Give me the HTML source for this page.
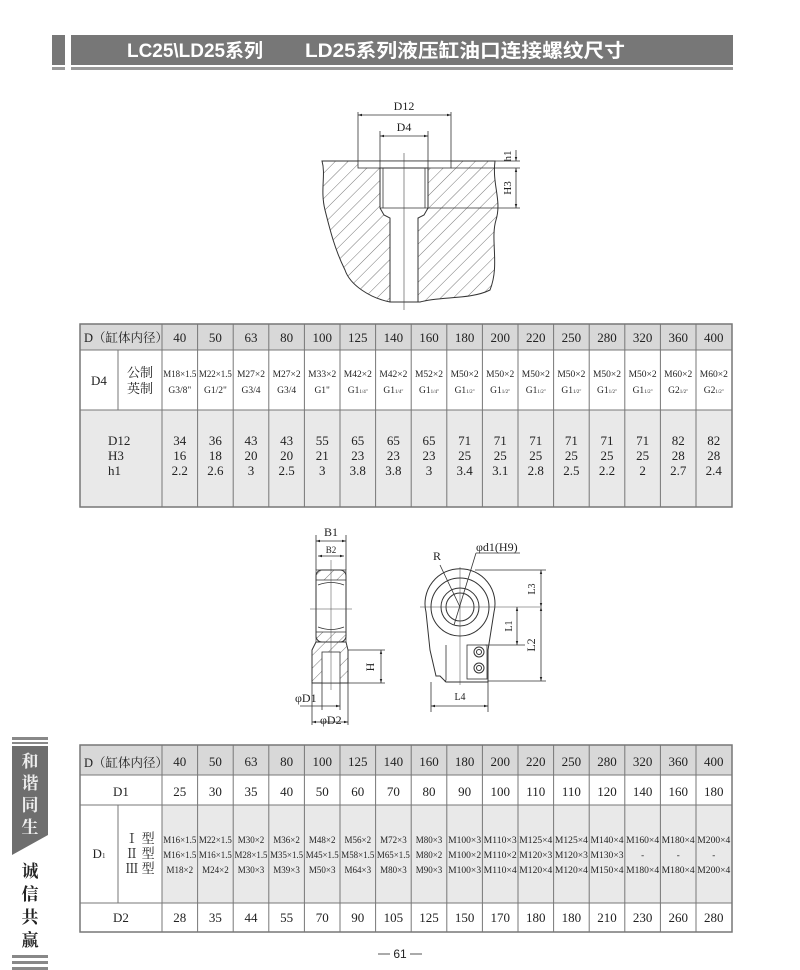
<!DOCTYPE html>
<html><head><meta charset="utf-8"><style>
html,body{margin:0;padding:0;background:#fff;}
svg{display:block;}
text{font-family:"Liberation Serif","Noto Serif CJK SC",serif;fill:#222;}
.n{font-size:13px;text-anchor:middle;}
.s{font-size:9.5px;text-anchor:middle;}
.dl{stroke:#333;stroke-width:0.8;fill:none;}
.ol{stroke:#333;stroke-width:1;fill:none;}
</style></head><body>
<svg width="800" height="970" viewBox="0 0 800 970" xmlns="http://www.w3.org/2000/svg">
<defs>
<pattern id="h" patternUnits="userSpaceOnUse" width="9" height="9" patternTransform="rotate(45)">
<line x1="0" y1="0" x2="0" y2="9" stroke="#555" stroke-width="0.8"/></pattern>
<marker id="a" viewBox="0 0 10 10" refX="10" refY="5" markerWidth="7" markerHeight="5" orient="auto-start-reverse"><path d="M0,2 L10,5 L0,8z" fill="#222"/></marker>
</defs>
<!-- header -->
<rect x="52" y="35" width="13" height="30" fill="#777"/>
<rect x="71" y="35" width="662" height="30" fill="#777"/>
<rect x="52" y="67" width="13" height="3" fill="#999"/>
<rect x="71" y="67" width="662" height="3" fill="#999"/>
<text x="127" y="57" textLength="136" lengthAdjust="spacingAndGlyphs" style="font-family:'Liberation Sans','Noto Sans CJK SC',sans-serif;font-size:19px;font-weight:bold;fill:#fff">LC25\LD25系列</text>
<text x="305" y="57" textLength="320" lengthAdjust="spacingAndGlyphs" style="font-family:'Liberation Sans','Noto Sans CJK SC',sans-serif;font-size:19px;font-weight:bold;fill:#fff">LD25系列液压缸油口连接螺纹尺寸</text>

<!-- top drawing -->
<path d="M322,161 L495,161 C492,185 502,200 496,220 C490,240 500,265 490,290 C470,300 440,296 420,302 L390,302 C370,298 350,285 345,270 C335,250 330,230 325,210 C320,190 326,175 322,161Z" fill="url(#h)" stroke="#333"/>
<rect x="358" y="161" width="93" height="7" fill="#fff" stroke="#333" stroke-width="0.8"/>
<path d="M380,168 L428,168 L428,208 L424,215 L418,218 L418,302 L390,302 L390,218 L384,215 L380,208Z" fill="#fff" stroke="#333"/>
<line x1="383" y1="168" x2="383" y2="208" class="dl"/><line x1="425" y1="168" x2="425" y2="208" class="dl"/>
<line x1="380" y1="208" x2="428" y2="208" class="dl"/>
<line x1="404" y1="153" x2="404" y2="310" stroke="#444" stroke-width="0.6"/>
<line x1="358" y1="112" x2="358" y2="161" class="dl"/><line x1="451" y1="112" x2="451" y2="161" class="dl"/>
<line x1="358" y1="115" x2="451" y2="115" class="dl" marker-start="url(#a)" marker-end="url(#a)"/>
<text x="404" y="110" style="font-size:12px" text-anchor="middle">D12</text>
<line x1="380" y1="131" x2="380" y2="168" class="dl"/><line x1="428" y1="131" x2="428" y2="168" class="dl"/>
<line x1="380" y1="136" x2="428" y2="136" class="dl" marker-start="url(#a)" marker-end="url(#a)"/>
<text x="404" y="131" style="font-size:12px" text-anchor="middle">D4</text>
<line x1="495" y1="161" x2="520" y2="161" class="dl"/><line x1="451" y1="168" x2="520" y2="168" class="dl"/><line x1="428" y1="208" x2="520" y2="208" class="dl"/>
<line x1="516" y1="150" x2="516" y2="161" class="dl" marker-end="url(#a)"/>
<line x1="516" y1="168" x2="516" y2="208" class="dl" marker-start="url(#a)" marker-end="url(#a)"/>
<text transform="translate(511,156) rotate(-90)" style="font-size:11px" text-anchor="middle">h1</text>
<text transform="translate(511,188) rotate(-90)" style="font-size:11px" text-anchor="middle">H3</text>

<!-- table 1 -->
<rect x="80" y="324" width="652" height="26" fill="#d8d8d8"/>
<rect x="80" y="350" width="652" height="60" fill="#fff"/>
<rect x="80" y="410" width="652" height="97" fill="#e9e9e9"/>
<g stroke="#777" stroke-width="1" fill="none">
<rect x="80" y="324" width="652" height="183" stroke-width="1.5"/>
<line x1="80" y1="350" x2="732" y2="350"/><line x1="80" y1="410" x2="732" y2="410"/>
<line x1="118" y1="350" x2="118" y2="410"/>
<path d="M162,324V507M197.6,324V507M233.2,324V507M268.8,324V507M304.4,324V507M340,324V507M375.6,324V507M411.2,324V507M446.8,324V507M482.4,324V507M518,324V507M553.6,324V507M589.2,324V507M624.8,324V507M660.4,324V507M696,324V507"/>
</g>
<text x="84" y="342" style="font-size:12.5px">D（缸体内径）</text>
<text x="99" y="385" class="n">D4</text>
<text x="140" y="377" class="n">公制</text><text x="140" y="393" class="n">英制</text>
<text x="108" y="445" class="n" style="text-anchor:start">D12</text>
<text x="108" y="460" class="n" style="text-anchor:start">H3</text>
<text x="108" y="475" class="n" style="text-anchor:start">h1</text>
<g class="n">
<text x="179.8" y="342">40</text><text x="215.4" y="342">50</text><text x="251" y="342">63</text><text x="286.6" y="342">80</text><text x="322.2" y="342">100</text><text x="357.8" y="342">125</text><text x="393.4" y="342">140</text><text x="429" y="342">160</text><text x="464.6" y="342">180</text><text x="500.2" y="342">200</text><text x="535.8" y="342">220</text><text x="571.4" y="342">250</text><text x="607" y="342">280</text><text x="642.6" y="342">320</text><text x="678.2" y="342">360</text><text x="713.8" y="342">400</text>
</g>
<g class="s">
<text x="179.8" y="377" textLength="33" lengthAdjust="spacingAndGlyphs">M18×1.5</text><text x="215.4" y="377" textLength="33" lengthAdjust="spacingAndGlyphs">M22×1.5</text><text x="251" y="377">M27×2</text><text x="286.6" y="377">M27×2</text><text x="322.2" y="377">M33×2</text><text x="357.8" y="377">M42×2</text><text x="393.4" y="377">M42×2</text><text x="429" y="377">M52×2</text><text x="464.6" y="377">M50×2</text><text x="500.2" y="377">M50×2</text><text x="535.8" y="377">M50×2</text><text x="571.4" y="377">M50×2</text><text x="607" y="377">M50×2</text><text x="642.6" y="377">M50×2</text><text x="678.2" y="377">M60×2</text><text x="713.8" y="377">M60×2</text>
<text x="179.8" y="393">G3/8"</text><text x="215.4" y="393">G1/2"</text><text x="251" y="393">G3/4</text><text x="286.6" y="393">G3/4</text><text x="322.2" y="393">G1"</text>
<text x="357.8" y="393">G1<tspan style="font-size:5px">1/4"</tspan></text><text x="393.4" y="393">G1<tspan style="font-size:5px">1/4"</tspan></text><text x="429" y="393">G1<tspan style="font-size:5px">1/4"</tspan></text>
<text x="464.6" y="393">G1<tspan style="font-size:5px">1/2"</tspan></text><text x="500.2" y="393">G1<tspan style="font-size:5px">1/2"</tspan></text><text x="535.8" y="393">G1<tspan style="font-size:5px">1/2"</tspan></text><text x="571.4" y="393">G1<tspan style="font-size:5px">1/2"</tspan></text><text x="607" y="393">G1<tspan style="font-size:5px">1/2"</tspan></text><text x="642.6" y="393">G1<tspan style="font-size:5px">1/2"</tspan></text><text x="678.2" y="393">G2<tspan style="font-size:5px">1/2"</tspan></text><text x="713.8" y="393">G2<tspan style="font-size:5px">1/2"</tspan></text>
</g>
<g class="n">
<text x="179.8" y="445">34</text><text x="215.4" y="445">36</text><text x="251" y="445">43</text><text x="286.6" y="445">43</text><text x="322.2" y="445">55</text><text x="357.8" y="445">65</text><text x="393.4" y="445">65</text><text x="429" y="445">65</text><text x="464.6" y="445">71</text><text x="500.2" y="445">71</text><text x="535.8" y="445">71</text><text x="571.4" y="445">71</text><text x="607" y="445">71</text><text x="642.6" y="445">71</text><text x="678.2" y="445">82</text><text x="713.8" y="445">82</text>
<text x="179.8" y="460">16</text><text x="215.4" y="460">18</text><text x="251" y="460">20</text><text x="286.6" y="460">20</text><text x="322.2" y="460">21</text><text x="357.8" y="460">23</text><text x="393.4" y="460">23</text><text x="429" y="460">23</text><text x="464.6" y="460">25</text><text x="500.2" y="460">25</text><text x="535.8" y="460">25</text><text x="571.4" y="460">25</text><text x="607" y="460">25</text><text x="642.6" y="460">25</text><text x="678.2" y="460">28</text><text x="713.8" y="460">28</text>
<text x="179.8" y="475">2.2</text><text x="215.4" y="475">2.6</text><text x="251" y="475">3</text><text x="286.6" y="475">2.5</text><text x="322.2" y="475">3</text><text x="357.8" y="475">3.8</text><text x="393.4" y="475">3.8</text><text x="429" y="475">3</text><text x="464.6" y="475">3.4</text><text x="500.2" y="475">3.1</text><text x="535.8" y="475">2.8</text><text x="571.4" y="475">2.5</text><text x="607" y="475">2.2</text><text x="642.6" y="475">2</text><text x="678.2" y="475">2.7</text><text x="713.8" y="475">2.4</text>
</g>

<!-- side view -->
<rect x="316" y="570" width="30" height="72" rx="6" fill="#fff" stroke="#333"/>
<path d="M316,570 h30 v10 h-30z M316,632 h30 v10 h-30z" fill="url(#h)" stroke="#333" stroke-width="0.7"/>
<path d="M318,585 q13,-5 26,0 M318,627 q13,5 26,0" class="dl"/>
<path d="M316,642 L312,650 L312,683 L348,683 L348,650 L346,642Z" fill="url(#h)" stroke="#333"/>
<rect x="322" y="652" width="18" height="31" fill="#fff" stroke="#333" stroke-width="0.8"/>
<line x1="331" y1="560" x2="331" y2="690" stroke="#444" stroke-width="0.5"/>
<line x1="310" y1="609" x2="352" y2="609" stroke="#444" stroke-width="0.5"/>
<line x1="316" y1="535" x2="316" y2="570" class="dl"/><line x1="346" y1="535" x2="346" y2="570" class="dl"/>
<line x1="316" y1="541" x2="346" y2="541" class="dl" marker-start="url(#a)" marker-end="url(#a)"/>
<text x="331" y="536" style="font-size:12px" text-anchor="middle">B1</text>
<line x1="318" y1="556" x2="344" y2="556" class="dl" marker-start="url(#a)" marker-end="url(#a)"/>
<text x="331" y="553" style="font-size:9px" text-anchor="middle">B2</text>
<line x1="348" y1="650" x2="385" y2="650" class="dl"/><line x1="348" y1="683" x2="385" y2="683" class="dl"/>
<line x1="381" y1="650" x2="381" y2="683" class="dl" marker-start="url(#a)" marker-end="url(#a)"/>
<text transform="translate(374,667) rotate(-90)" style="font-size:12px" text-anchor="middle">H</text>
<line x1="322" y1="683" x2="322" y2="710" class="dl"/><line x1="340" y1="683" x2="340" y2="710" class="dl"/>
<line x1="300" y1="706" x2="340" y2="706" class="dl" marker-end="url(#a)"/>
<text x="295" y="702" style="font-size:12px">φD1</text>
<line x1="312" y1="683" x2="312" y2="725" class="dl"/><line x1="348" y1="683" x2="348" y2="725" class="dl"/>
<line x1="312" y1="722" x2="348" y2="722" class="dl" marker-start="url(#a)" marker-end="url(#a)"/>
<text x="320" y="724" style="font-size:12px">φD2</text>

<!-- front view -->
<path d="M430,650 L426,612 A35,35 0 1 1 494,612 L488,650 L488,682 L446,682 L440,676 L436,676 Z" fill="#fff" stroke="#333"/>
<path d="M446,645 L446,680 L445,682" class="dl"/>
<circle cx="460" cy="607" r="29" class="ol"/>
<circle cx="460" cy="607" r="19" class="ol"/>
<circle cx="460" cy="607" r="14" class="ol"/>
<line x1="420" y1="607" x2="540" y2="607" stroke="#444" stroke-width="0.5"/>
<line x1="460" y1="567" x2="460" y2="685" stroke="#444" stroke-width="0.5"/>
<rect x="467" y="645" width="20" height="34" fill="#fff" stroke="#333" stroke-width="0.8"/>
<circle cx="479" cy="652" r="5" class="ol"/><circle cx="479" cy="652" r="2.5" class="ol"/>
<circle cx="479" cy="668" r="5" class="ol"/><circle cx="479" cy="668" r="2.5" class="ol"/>
<line x1="440" y1="565" x2="460" y2="607" class="dl"/>
<line x1="476" y1="553" x2="454" y2="625" class="dl"/>
<line x1="476" y1="553" x2="520" y2="553" class="dl"/>
<text x="433" y="560" style="font-size:12px">R</text>
<text x="476" y="551" style="font-size:12px">φd1(H9)</text>
<line x1="475" y1="570" x2="546" y2="570" class="dl"/>
<line x1="488" y1="681" x2="546" y2="681" class="dl"/>
<line x1="485" y1="645" x2="525" y2="645" class="dl"/>
<line x1="541" y1="570" x2="541" y2="607" class="dl" marker-start="url(#a)" marker-end="url(#a)"/>
<line x1="541" y1="607" x2="541" y2="681" class="dl" marker-start="url(#a)" marker-end="url(#a)"/>
<line x1="517" y1="607" x2="517" y2="645" class="dl" marker-start="url(#a)" marker-end="url(#a)"/>
<text transform="translate(535,589) rotate(-90)" style="font-size:10px" text-anchor="middle">L3</text>
<text transform="translate(535,645) rotate(-90)" style="font-size:12px" text-anchor="middle">L2</text>
<text transform="translate(512,626) rotate(-90)" style="font-size:10px" text-anchor="middle">L1</text>
<line x1="431" y1="682" x2="431" y2="712" class="dl"/><line x1="488" y1="682" x2="488" y2="712" class="dl"/>
<line x1="431" y1="706" x2="488" y2="706" class="dl" marker-start="url(#a)" marker-end="url(#a)"/>
<text x="460" y="700" style="font-size:10px" text-anchor="middle">L4</text>

<!-- table 2 -->
<rect x="80" y="745" width="652" height="30" fill="#d8d8d8"/>
<rect x="162" y="805" width="570" height="98" fill="#e9e9e9"/>
<g stroke="#777" stroke-width="1" fill="none">
<rect x="80" y="745" width="652" height="187" stroke-width="1.5"/>
<line x1="80" y1="775" x2="732" y2="775"/><line x1="80" y1="805" x2="732" y2="805"/><line x1="80" y1="903" x2="732" y2="903"/>
<line x1="118" y1="805" x2="118" y2="903"/>
<path d="M162,745V932M197.6,745V932M233.2,745V932M268.8,745V932M304.4,745V932M340,745V932M375.6,745V932M411.2,745V932M446.8,745V932M482.4,745V932M518,745V932M553.6,745V932M589.2,745V932M624.8,745V932M660.4,745V932M696,745V932"/>
</g>
<text x="84" y="767" style="font-size:12.5px">D（缸体内径）</text>
<text x="121" y="796" class="n">D1</text>
<text x="99" y="858" class="n">D<tspan style="font-size:7px">1</tspan></text>
<text x="140" y="843" class="n">Ⅰ 型</text><text x="140" y="858" class="n">Ⅱ 型</text><text x="140" y="873" class="n">Ⅲ 型</text>
<text x="121" y="922" class="n">D2</text>
<g class="n">
<text x="179.8" y="766">40</text><text x="215.4" y="766">50</text><text x="251" y="766">63</text><text x="286.6" y="766">80</text><text x="322.2" y="766">100</text><text x="357.8" y="766">125</text><text x="393.4" y="766">140</text><text x="429" y="766">160</text><text x="464.6" y="766">180</text><text x="500.2" y="766">200</text><text x="535.8" y="766">220</text><text x="571.4" y="766">250</text><text x="607" y="766">280</text><text x="642.6" y="766">320</text><text x="678.2" y="766">360</text><text x="713.8" y="766">400</text>
<text x="179.8" y="796">25</text><text x="215.4" y="796">30</text><text x="251" y="796">35</text><text x="286.6" y="796">40</text><text x="322.2" y="796">50</text><text x="357.8" y="796">60</text><text x="393.4" y="796">70</text><text x="429" y="796">80</text><text x="464.6" y="796">90</text><text x="500.2" y="796">100</text><text x="535.8" y="796">110</text><text x="571.4" y="796">110</text><text x="607" y="796">120</text><text x="642.6" y="796">140</text><text x="678.2" y="796">160</text><text x="713.8" y="796">180</text>
<text x="179.8" y="922">28</text><text x="215.4" y="922">35</text><text x="251" y="922">44</text><text x="286.6" y="922">55</text><text x="322.2" y="922">70</text><text x="357.8" y="922">90</text><text x="393.4" y="922">105</text><text x="429" y="922">125</text><text x="464.6" y="922">150</text><text x="500.2" y="922">170</text><text x="535.8" y="922">180</text><text x="571.4" y="922">180</text><text x="607" y="922">210</text><text x="642.6" y="922">230</text><text x="678.2" y="922">260</text><text x="713.8" y="922">280</text>
</g>
<g class="s" style="font-size:9px">
<text x="179.8" y="843" textLength="33" lengthAdjust="spacingAndGlyphs">M16×1.5</text><text x="215.4" y="843" textLength="33" lengthAdjust="spacingAndGlyphs">M22×1.5</text><text x="251" y="843">M30×2</text><text x="286.6" y="843">M36×2</text><text x="322.2" y="843">M48×2</text><text x="357.8" y="843">M56×2</text><text x="393.4" y="843">M72×3</text><text x="429" y="843">M80×3</text><text x="464.6" y="843" textLength="33" lengthAdjust="spacingAndGlyphs">M100×3</text><text x="500.2" y="843" textLength="33" lengthAdjust="spacingAndGlyphs">M110×3</text><text x="535.8" y="843" textLength="33" lengthAdjust="spacingAndGlyphs">M125×4</text><text x="571.4" y="843" textLength="33" lengthAdjust="spacingAndGlyphs">M125×4</text><text x="607" y="843" textLength="33" lengthAdjust="spacingAndGlyphs">M140×4</text><text x="642.6" y="843" textLength="33" lengthAdjust="spacingAndGlyphs">M160×4</text><text x="678.2" y="843" textLength="33" lengthAdjust="spacingAndGlyphs">M180×4</text><text x="713.8" y="843" textLength="33" lengthAdjust="spacingAndGlyphs">M200×4</text>
<text x="179.8" y="858" textLength="33" lengthAdjust="spacingAndGlyphs">M16×1.5</text><text x="215.4" y="858" textLength="33" lengthAdjust="spacingAndGlyphs">M16×1.5</text><text x="251" y="858" textLength="33" lengthAdjust="spacingAndGlyphs">M28×1.5</text><text x="286.6" y="858" textLength="33" lengthAdjust="spacingAndGlyphs">M35×1.5</text><text x="322.2" y="858" textLength="33" lengthAdjust="spacingAndGlyphs">M45×1.5</text><text x="357.8" y="858" textLength="33" lengthAdjust="spacingAndGlyphs">M58×1.5</text><text x="393.4" y="858" textLength="33" lengthAdjust="spacingAndGlyphs">M65×1.5</text><text x="429" y="858">M80×2</text><text x="464.6" y="858" textLength="33" lengthAdjust="spacingAndGlyphs">M100×2</text><text x="500.2" y="858" textLength="33" lengthAdjust="spacingAndGlyphs">M110×2</text><text x="535.8" y="858" textLength="33" lengthAdjust="spacingAndGlyphs">M120×3</text><text x="571.4" y="858" textLength="33" lengthAdjust="spacingAndGlyphs">M120×3</text><text x="607" y="858" textLength="33" lengthAdjust="spacingAndGlyphs">M130×3</text><text x="642.6" y="858">-</text><text x="678.2" y="858">-</text><text x="713.8" y="858">-</text>
<text x="179.8" y="873">M18×2</text><text x="215.4" y="873">M24×2</text><text x="251" y="873">M30×3</text><text x="286.6" y="873">M39×3</text><text x="322.2" y="873">M50×3</text><text x="357.8" y="873">M64×3</text><text x="393.4" y="873">M80×3</text><text x="429" y="873">M90×3</text><text x="464.6" y="873" textLength="33" lengthAdjust="spacingAndGlyphs">M100×3</text><text x="500.2" y="873" textLength="33" lengthAdjust="spacingAndGlyphs">M110×4</text><text x="535.8" y="873" textLength="33" lengthAdjust="spacingAndGlyphs">M120×4</text><text x="571.4" y="873" textLength="33" lengthAdjust="spacingAndGlyphs">M120×4</text><text x="607" y="873" textLength="33" lengthAdjust="spacingAndGlyphs">M150×4</text><text x="642.6" y="873" textLength="33" lengthAdjust="spacingAndGlyphs">M180×4</text><text x="678.2" y="873" textLength="33" lengthAdjust="spacingAndGlyphs">M180×4</text><text x="713.8" y="873" textLength="33" lengthAdjust="spacingAndGlyphs">M200×4</text>
</g>

<!-- sidebar -->
<rect x="12" y="737" width="36" height="3" fill="#888"/>
<rect x="12" y="742" width="36" height="2" fill="#888"/>
<path d="M12,746 H48 V835 L12,855 Z" fill="#6e6e6e"/>
<g style="font-family:'Noto Serif CJK SC',serif;font-size:17px;font-weight:bold" text-anchor="middle">
<text x="30" y="767" style="fill:#eee">和</text><text x="30" y="789" style="fill:#eee">谐</text><text x="30" y="811" style="fill:#eee">同</text><text x="30" y="833" style="fill:#eee">生</text>
</g>
<g style="font-family:'Noto Serif CJK SC',serif;font-size:17px;font-weight:bold" text-anchor="middle">
<text x="30" y="877">诚</text><text x="30" y="900">信</text><text x="30" y="923">共</text><text x="30" y="946">赢</text>
</g>
<rect x="12" y="955" width="36" height="3" fill="#888"/>
<rect x="12" y="961" width="36" height="3" fill="#888"/>
<rect x="12" y="967" width="36" height="3" fill="#888"/>

<!-- footer -->
<line x1="378" y1="954" x2="390" y2="954" stroke="#555"/>
<line x1="410" y1="954" x2="422" y2="954" stroke="#555"/>
<text x="400" y="958" style="font-family:'Liberation Sans',sans-serif;font-size:12px" text-anchor="middle">61</text>
</svg>
</body></html>
